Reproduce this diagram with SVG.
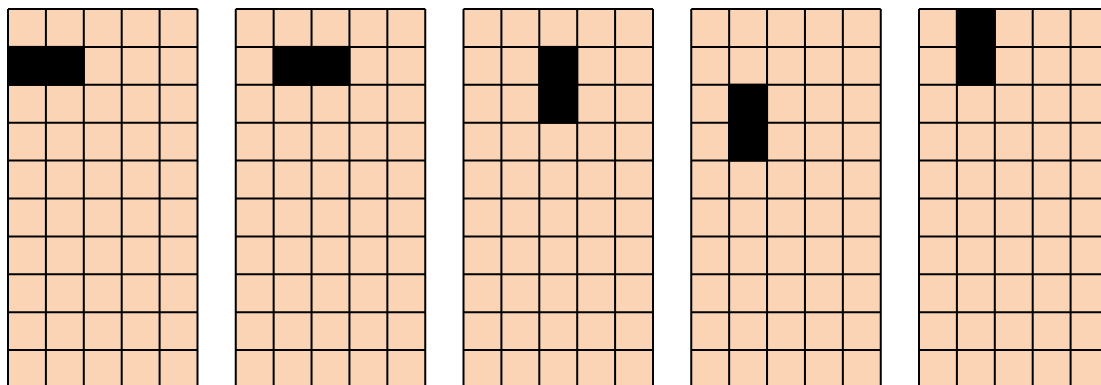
<svg xmlns="http://www.w3.org/2000/svg" xmlns:xlink="http://www.w3.org/1999/xlink" width="1101" height="385" viewBox="0 0 1101 385">
<style>
.bg{fill:#FAD4B4;stroke:none}
.ln{stroke:#000;stroke-width:2;fill:none}
.blk{fill:#000;stroke:#000;stroke-width:2}
</style>
<defs>
<g id="grid">
<rect class="bg" x="0" y="0" width="189.5" height="379"/>
<path class="ln" d="M0,0V379M37.9,0V379M75.8,0V379M113.7,0V379M151.6,0V379M189.5,0V379M0,0H189.5M0,37.9H189.5M0,75.8H189.5M0,113.7H189.5M0,151.6H189.5M0,189.5H189.5M0,227.4H189.5M0,265.3H189.5M0,303.2H189.5M0,341.1H189.5M0,379H189.5"/>
</g>
</defs>
<rect width="1101" height="385" fill="#fff"/>
<g id="grid1" transform="translate(8,9)">
<use href="#grid" xlink:href="#grid"/>
<rect class="blk" x="0" y="37.9" width="75.8" height="37.9"/>
</g>
<g id="grid2" transform="translate(235.75,9)">
<use href="#grid" xlink:href="#grid"/>
<rect class="blk" x="37.9" y="37.9" width="75.8" height="37.9"/>
</g>
<g id="grid3" transform="translate(463.5,9)">
<use href="#grid" xlink:href="#grid"/>
<rect class="blk" x="75.8" y="37.9" width="37.9" height="75.8"/>
</g>
<g id="grid4" transform="translate(691.25,9)">
<use href="#grid" xlink:href="#grid"/>
<rect class="blk" x="37.9" y="75.8" width="37.9" height="75.8"/>
</g>
<g id="grid5" transform="translate(919,9)">
<use href="#grid" xlink:href="#grid"/>
<rect class="blk" x="37.9" y="0" width="37.9" height="75.8"/>
</g>
<g id="connectors"/>
</svg>
